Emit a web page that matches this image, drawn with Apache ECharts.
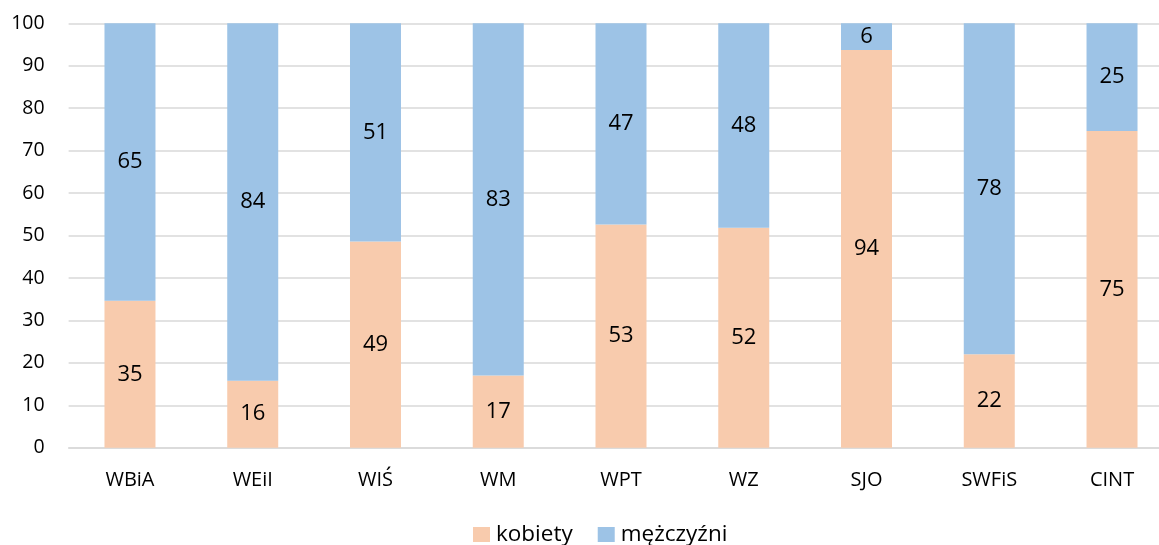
<!DOCTYPE html>
<html>
<head>
<meta charset="utf-8">
<script src="https://cdn.jsdelivr.net/npm/echarts@6/dist/echarts.min.js"></script>
<style>
html,body{margin:0;padding:0;background:#fff;overflow:hidden;}
#chart{width:1175px;height:545px;}
</style>
</head>
<body>
<div id="chart"></div>
<script>
const categories = ['WBiA', 'WEiI', 'WIŚ', 'WM', 'WPT', 'WZ', 'SJO', 'SWFiS', 'CINT'];
const kobiety = [34.6, 15.8, 48.6, 17.0, 52.6, 51.8, 93.7, 22.0, 74.6];
const mezczyzni = [65.4, 84.2, 51.4, 83.0, 47.4, 48.2, 6.3, 78.0, 25.4];
const yTicks = [0, 10, 20, 30, 40, 50, 60, 70, 80, 90, 100];

const FONT = '"Open Sans", sans-serif';
const chart = echarts.init(document.getElementById('chart'), null, {renderer: 'canvas'});
const labelStyle = {
  show: true,
  position: 'inside',
  color: '#000',
  fontFamily: FONT,
  fontSize: 22,
  padding: [4, 0, 0, 0],
  formatter: p => String(Math.round(p.value))
};
chart.setOption({
  animation: false,
  grid: {left: 68.6, top: 23.3, width: 1104.8, height: 424.4, containLabel: false},
  legend: {
    data: ['kobiety', 'mężczyźni'],
    left: 473,
    top: 523,
    padding: 0,
    itemWidth: 17,
    itemHeight: 15,
    itemGap: 25,
    icon: 'rect',
    textStyle: {fontFamily: FONT, fontSize: 22.5, color: '#000', lineHeight: 22, padding: [0, 0, 0, 1]}
  },
  xAxis: {
    type: 'category',
    data: categories,
    axisLine: {lineStyle: {color: '#D9D9D9', width: 1.5}},
    axisTick: {show: false},
    axisLabel: {fontFamily: FONT, fontSize: 20, color: '#000', margin: 23}
  },
  yAxis: {
    type: 'value',
    min: yTicks[0],
    max: yTicks[yTicks.length - 1],
    interval: 10,
    axisLine: {show: false},
    axisTick: {show: false},
    splitLine: {lineStyle: {color: '#D9D9D9', width: 1.5}},
    axisLabel: {fontFamily: FONT, fontSize: 19.5, color: '#000', margin: 24}
  },
  series: [
    {
      name: 'kobiety', type: 'bar', stack: 'total', data: kobiety,
      barWidth: 51,
      itemStyle: {color: '#F8CBAD'},
      label: labelStyle
    },
    {
      name: 'mężczyźni', type: 'bar', stack: 'total', data: mezczyzni,
      barWidth: 51,
      itemStyle: {color: '#9DC3E6'},
      label: labelStyle
    }
  ]
});
</script>
</body>
</html>
